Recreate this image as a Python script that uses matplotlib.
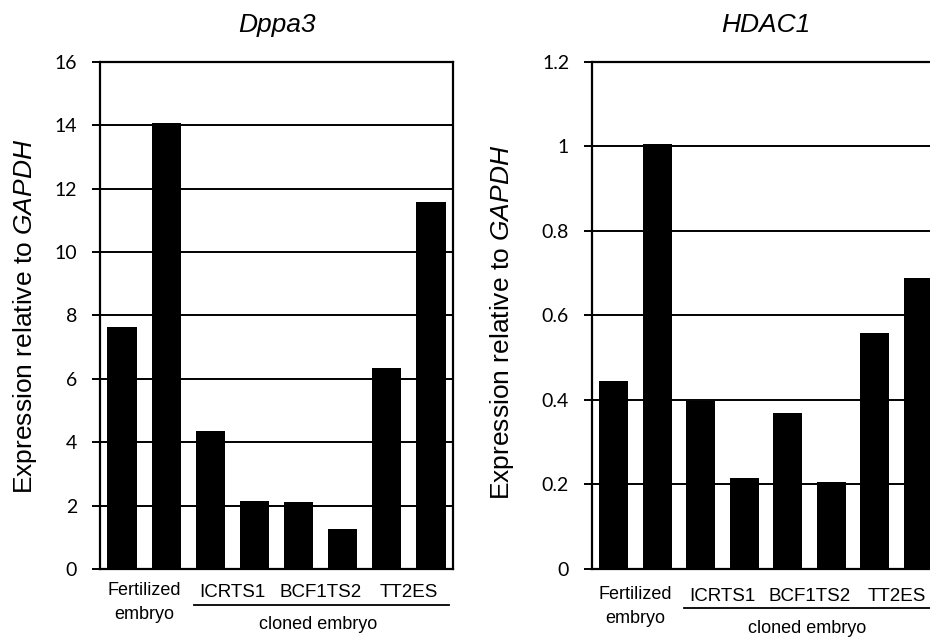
import numpy as np
import matplotlib
matplotlib.use("Agg")
import matplotlib.pyplot as plt
from matplotlib.ticker import FuncFormatter

plt.rcParams['font.family'] = ['Liberation Sans', 'DejaVu Sans']
plt.rcParams['mathtext.fontset'] = 'custom'
plt.rcParams['mathtext.rm'] = 'Liberation Sans'
plt.rcParams['mathtext.it'] = 'Liberation Sans:italic'

# values
dppa3 = [7.63, 14.07, 4.35, 2.15, 2.1, 1.26, 6.35, 11.57]
hdac1 = [0.446, 1.005, 0.398, 0.216, 0.369, 0.207, 0.559, 0.688]
groups = ["ICRTS1", "BCF1TS2", "TT2ES"]
dppa3_ticks = [0, 2, 4, 6, 8, 10, 12, 14, 16]
hdac1_ticks = [0, 0.2, 0.4, 0.6, 0.8, 1.0, 1.2]

fig = plt.figure(figsize=(9.3, 6.43), dpi=100)
ax1 = fig.add_axes([0.1075, 0.1151, 0.3796, 0.7885])
ax2 = fig.add_axes([0.6366, 0.1151, 0.3742, 0.7885])


def draw(ax, vals, ticks, title, ys):
    x = np.arange(len(vals))
    ax.bar(x, vals, width=0.66, color="black", zorder=3)
    ax.set_xlim(-0.5, 7.5)
    ax.set_ylim(ticks[0], ticks[-1])
    ax.set_yticks(ticks)
    ax.yaxis.set_major_formatter(FuncFormatter(lambda v, p: f"{v:g}"))
    ax.grid(axis="y", color="black", linewidth=1.4, zorder=1)
    ax.set_xticks([])
    ax.tick_params(axis="y", length=6, width=1.4, pad=10.5, labelsize=14,
                   labelfontfamily="Lato")
    for s in ax.spines.values():
        s.set_linewidth(1.6)
    ax.text(0.5, 1.073, title, transform=ax.transAxes, ha="center",
            va="center", fontsize=19, style="italic")
    tr = ax.get_xaxis_transform()
    y_fert, y_emb, y_grp, y_line, y_clone = ys
    ax.text(0.5, y_fert, "Fertilized", transform=tr, ha="center",
            va="center", fontsize=13)
    ax.text(0.5, y_emb, "embryo", transform=tr, ha="center",
            va="center", fontsize=13)
    for i, g in enumerate(groups):
        ax.text(2.5 + 2 * i, y_grp, g, transform=tr, ha="center",
                va="center", fontsize=13.5)
    ax.plot([1.62, 7.4], [y_line, y_line], transform=tr, color="black",
            linewidth=1.3, clip_on=False)
    ax.text(4.45, y_clone, "cloned embryo", transform=tr, ha="center",
            va="center", fontsize=13)


draw(ax1, dppa3, dppa3_ticks, "Dppa3", (-0.043, -0.089, -0.047, -0.071, -0.110))
draw(ax2, hdac1, hdac1_ticks, "HDAC1", (-0.051, -0.097, -0.055, -0.077, -0.118))

ylab = r"Expression relative to $\mathit{GAPDH}$"
fig.text(25 / 930, 0.5086, ylab, rotation=90, ha="center", va="center",
         fontsize=19)
fig.text(502 / 930, 0.499, ylab, rotation=90, ha="center", va="center",
         fontsize=19)

plt.savefig("out.png", dpi=100)
